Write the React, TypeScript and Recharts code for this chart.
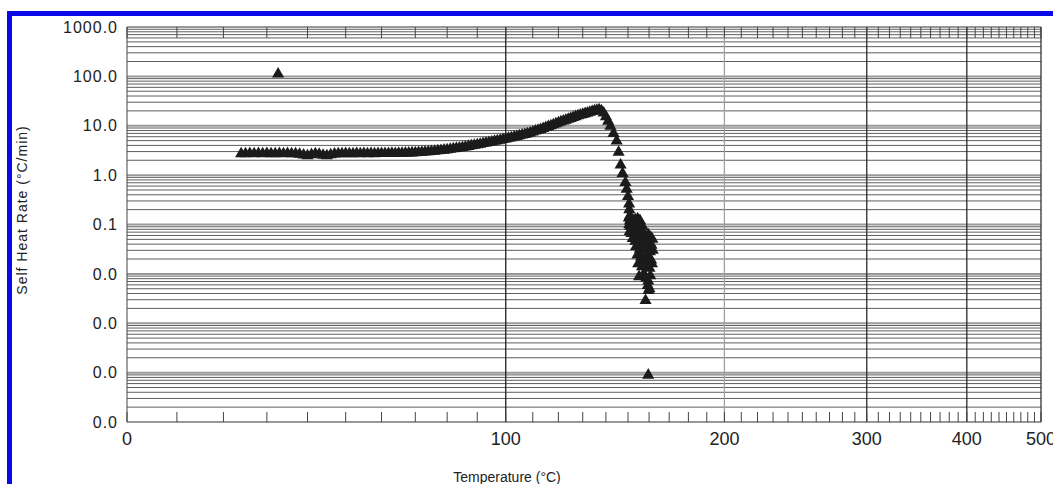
import React from 'react'
import { ReferenceLine, Scatter, ScatterChart, XAxis, YAxis, ZAxis } from 'recharts'

// temperature in °C, self heat rate in °C/min
const rampTemps = [
  24, 25, 26, 27, 28, 29, 30, 31, 32, 33, 34, 35, 36, 37, 38, 39, 40, 41, 42, 43,
  44, 45, 46, 47, 48, 49, 50, 51, 52, 53, 54, 55, 56, 57, 58, 59, 60, 61, 62, 63,
  64, 65, 66, 67, 68, 69, 70, 71, 72, 73, 74, 75, 76, 77, 78, 79, 80, 81, 82, 83,
  84, 85, 86, 87, 88, 89, 90, 91, 92, 93, 94, 95, 96, 97, 98, 99, 100, 101, 102, 103,
  104, 105, 106, 107, 108, 109, 110, 111, 112, 113, 114, 115, 116, 117, 118, 119, 120, 121, 122, 123,
  124, 125, 126, 127, 128, 129, 130, 131, 132, 133, 134, 135, 136, 137, 138, 139, 140, 141, 142,
]
const rampRates = [
  2.7, 2.72, 2.74, 2.72, 2.73, 2.71, 2.73, 2.7, 2.72, 2.74, 2.71, 2.73, 2.7, 2.72, 2.66, 2.56, 2.46, 2.6, 2.7, 2.64,
  2.52, 2.46, 2.58, 2.68, 2.72, 2.7, 2.73, 2.71, 2.72, 2.74, 2.71, 2.73, 2.72, 2.74, 2.72, 2.75, 2.73, 2.75, 2.74, 2.76,
  2.75, 2.77, 2.78, 2.79, 2.8, 2.82, 2.84, 2.87, 2.9, 2.93, 2.97, 3.01, 3.05, 3.1, 3.15, 3.21, 3.27, 3.34, 3.41, 3.48,
  3.56, 3.64, 3.73, 3.82, 3.92, 4.02, 4.13, 4.24, 4.35, 4.47, 4.59, 4.71, 4.84, 4.97, 5.11, 5.25, 5.4, 5.56, 5.73, 5.9,
  6.08, 6.27, 6.47, 6.67, 6.88, 7.1, 7.5, 7.8, 8.1, 8.4, 8.8, 9.2, 9.6, 10.0, 10.5, 11.0, 11.5, 12.0, 12.5, 13.0,
  13.5, 14.1, 14.7, 15.3, 15.9, 16.5, 17.0, 17.6, 18.2, 18.8, 19.4, 20.0, 20.6, 21.0, 20.2, 18.2, 15.2, 12.4, 9.8,
]
const dropTemps = [143.4, 144.8, 145.7, 146.6, 147.5, 148.8, 149.4, 150.0, 150.5, 150.6, 150.9]
const dropRates = [7.0, 4.9, 2.9, 1.6, 1.08, 0.71, 0.52, 0.37, 0.26, 0.2, 0.15]
const tailTemps = [
  150.4, 150.9, 151.3, 151.8, 152.3, 152.8, 153.4, 153.9, 154.5, 155.0, 155.6, 156.2, 156.8, 151.0, 152.0, 153.2, 154.6, 155.8, 150.6,
  150.8, 151.6, 152.6, 153.6, 154.8, 156.0, 157.2, 158.4, 159.6, 160.8, 161.6, 152.2, 153.4, 155.0, 156.6, 158.2, 159.8, 161.2,
  153.8, 155.6, 157.2, 158.8, 160.4, 161.8, 154.4, 156.2, 157.8, 159.4, 161.0, 154.8, 156.6, 158.4, 160.2, 161.4,
  155.2, 157.4, 158.6, 159.6, 160.6, 159.4, 160.2, 159.8,
]
const tailRates = [
  0.135, 0.118, 0.128, 0.105, 0.122, 0.098, 0.126, 0.108, 0.13, 0.112, 0.12, 0.1, 0.092, 0.092, 0.085, 0.08, 0.088, 0.082, 0.1,
  0.072, 0.066, 0.07, 0.062, 0.068, 0.06, 0.066, 0.058, 0.062, 0.055, 0.05, 0.052, 0.046, 0.048, 0.044, 0.046, 0.04, 0.038,
  0.036, 0.032, 0.03, 0.033, 0.028, 0.03, 0.024, 0.022, 0.02, 0.023, 0.019, 0.016, 0.014, 0.015, 0.013, 0.016,
  0.0088, 0.01, 0.0082, 0.0072, 0.0092, 0.0058, 0.005, 0.0046,
]
const strayTemps = [32.7, 158.3, 159.6]
const strayRates = [112, 0.0029, 0.000089]

// every 10 °C gets a small tick, every 100 °C a label
const tempTicks = Array.from({ length: 51 }, (_, i) => i * 10)
const tempGrid = [100, 200, 300, 400]
const tempGridColors = ['#1e1e1e', '#a0a0a0', '#2a2a2a', '#2a2a2a']
const rateTicks = [0.00001, 0.0001, 0.001, 0.01, 0.1, 1, 10, 100, 1000]
const rateMinorSteps = [2, 3, 4, 5, 6, 7, 8, 9]

// the temperature axis runs on -1000/T(K), labelled in °C
const toAxis = (t: number) => -1000 / (t + 273.15)
const fromAxis = (v: number) => -1000 / v - 273.15

const FONT = '"Liberation Sans", Arial, sans-serif'
const BLUE = '#0a0ae8'

const pairs = (temps: number[], rates: number[]) => temps.map((t, i) => ({ x: toAxis(t), y: rates[i] }))

const points = [
  ...pairs(rampTemps, rampRates),
  ...pairs(dropTemps, dropRates),
  ...pairs(tailTemps, tailRates),
  ...pairs(strayTemps, strayRates),
]

const minorRates = rateTicks.slice(0, -1).flatMap((d) => rateMinorSteps.map((s) => d * s))
const innerDecades = rateTicks.slice(1, -1)
const xDomain = [toAxis(0), toAxis(500)]

const tempLabel = (v: number) => {
  const t = Math.round(fromAxis(v))
  return t % 100 === 0 ? String(t) : ''
}

export default function App() {
  return (
    <div style={{ position: 'absolute', left: 0, top: 0, width: 1053, height: 484, background: '#fff', overflow: 'hidden' }}>
      <div
        style={{
          position: 'absolute',
          left: 7,
          top: 11,
          right: 0,
          bottom: 0,
          borderTop: `5px solid ${BLUE}`,
          borderLeft: `5px solid ${BLUE}`,
        }}
      />
      <ScatterChart
        width={1053}
        height={484}
        margin={{ top: 27, right: 12, bottom: 0, left: 0 }}
        style={{ position: 'absolute', left: 0, top: 0 }}
      >
        <XAxis
          type="number"
          dataKey="x"
          domain={xDomain}
          allowDataOverflow
          ticks={tempTicks.map(toAxis)}
          interval={0}
          tickFormatter={tempLabel}
          height={62}
          tickSize={-10}
          tickMargin={20}
          tickLine={{ stroke: '#444' }}
          axisLine={{ stroke: '#333' }}
          tick={{ fill: '#222', fontSize: 18, fontFamily: FONT }}
          label={{
            content: () => (
              <text x={507} y={482} textAnchor="middle" fill="#222" fontSize={14} fontFamily={FONT}>
                Temperature (°C)
              </text>
            ),
          }}
        />
        <XAxis
          xAxisId="top"
          orientation="top"
          mirror
          type="number"
          dataKey="x"
          domain={xDomain}
          allowDataOverflow
          ticks={tempTicks.map(toAxis)}
          interval={0}
          tickFormatter={() => ''}
          tickSize={11}
          tickLine={{ stroke: '#444' }}
          axisLine={{ stroke: '#333' }}
        />
        <YAxis
          type="number"
          dataKey="y"
          scale="log"
          domain={[0.00001, 1000]}
          allowDataOverflow
          ticks={rateTicks}
          interval={0}
          tickFormatter={(v: number) => v.toFixed(1)}
          width={127}
          tickLine={false}
          tickSize={0}
          tickMargin={9}
          axisLine={{ stroke: '#444' }}
          tick={{ fill: '#222', fontSize: 16, fontFamily: FONT, letterSpacing: 1 }}
          label={{
            content: () => (
              <text
                x={22}
                y={210}
                transform="rotate(-90 22 210)"
                textAnchor="middle"
                dominantBaseline="central"
                fill="#222"
                fontSize={14}
                letterSpacing={1}
                fontFamily={FONT}
              >
                Self Heat Rate (°C/min)
              </text>
            ),
          }}
        />
        <ZAxis range={[19, 19]} />
        {minorRates.map((r) => (
          <ReferenceLine key={`m${r}`} y={r} stroke="#5e5e5e" strokeWidth={1} />
        ))}
        {innerDecades.map((r) => (
          <ReferenceLine key={`d${r}`} y={r} stroke="#9a9a9a" strokeWidth={2} />
        ))}
        {tempGrid.map((t, i) => (
          <ReferenceLine key={`t${t}`} x={toAxis(t)} stroke={tempGridColors[i]} strokeWidth={1.3} />
        ))}
        <ReferenceLine x={toAxis(500)} stroke="#333" strokeWidth={1.3} />
        {/* invisible copy of the data so the top tick axis gets a domain */}
        <Scatter xAxisId="top" data={points} shape={() => <g />} isAnimationActive={false} />
        <Scatter data={points} shape="triangle" fill="#1b1b1b" isAnimationActive={false} />
      </ScatterChart>
    </div>
  )
}
